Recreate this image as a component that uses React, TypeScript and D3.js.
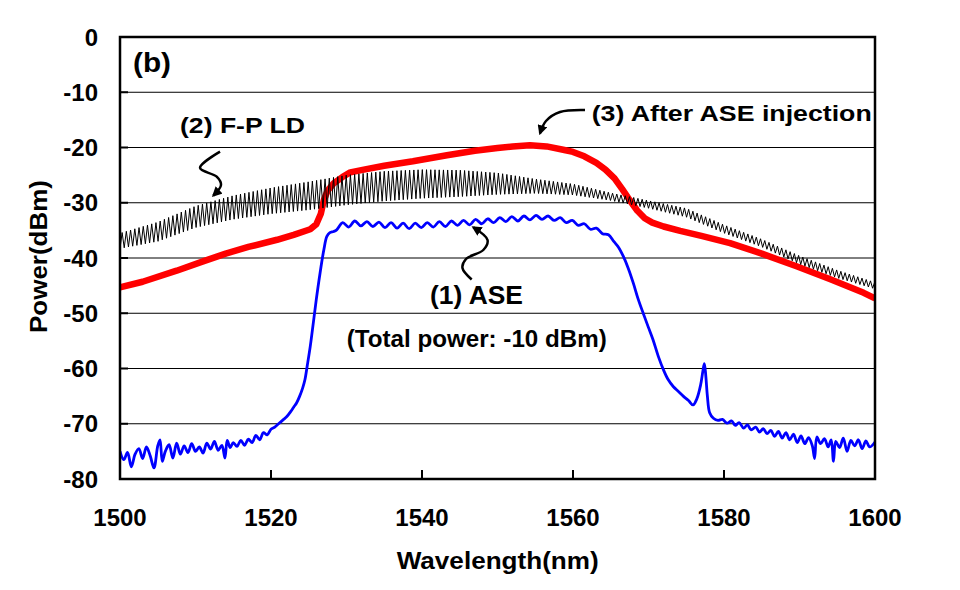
import React from "react";
import * as d3 from "d3";

const W = 960;
const H = 590;
const PLOT = { left: 120, right: 875, top: 37, bottom: 479 };
const FONT = "Arial, 'Liberation Sans', sans-serif";

const X_DOMAIN: [number, number] = [1500, 1600];
const Y_DOMAIN: [number, number] = [-80, 0];
const X_TICKS = [1500, 1520, 1540, 1560, 1580, 1600];
const Y_TICKS = [0, -10, -20, -30, -40, -50, -60, -70, -80];

// (1) ASE spectrum [wavelength nm, power dBm]
const ASE: [number, number][] = [
  [1500.0, -75.0], [1500.5, -76.5], [1501.0, -75.2], [1501.5, -77.8], [1502.0, -75.5],
  [1502.5, -74.5], [1503.0, -76.3], [1503.5, -74.2], [1504.0, -75.8], [1504.5, -78.0],
  [1505.0, -74.0], [1505.3, -72.9], [1505.6, -76.8], [1506.0, -75.0], [1506.5, -73.8],
  [1507.0, -76.2], [1507.5, -73.5], [1508.0, -75.5], [1508.5, -74.0], [1509.0, -75.2],
  [1509.5, -73.6], [1510.0, -75.0], [1510.5, -74.2], [1511.0, -75.3], [1511.5, -73.5],
  [1512.0, -74.6], [1512.5, -73.2], [1513.0, -74.8], [1513.5, -73.9], [1513.9, -76.2],
  [1514.2, -73.0], [1514.6, -74.3], [1515.0, -73.4], [1515.5, -74.1], [1516.0, -73.0],
  [1516.5, -73.9], [1517.0, -72.8], [1517.5, -73.4], [1518.0, -72.1], [1518.5, -72.9],
  [1519.0, -71.6], [1519.5, -72.0], [1520.0, -71.0], [1520.5, -70.6], [1521.0, -70.0],
  [1521.6, -69.3], [1522.1, -68.7], [1522.6, -67.8], [1523.0, -67.0], [1523.4, -66.2],
  [1523.8, -65.0], [1524.2, -63.5], [1524.5, -62.0], [1524.8, -59.5], [1525.2, -56.0],
  [1525.6, -51.8], [1526.0, -47.5], [1526.5, -42.7], [1527.0, -38.5], [1527.4, -36.1],
  [1527.8, -35.4], [1528.3, -35.2], [1528.7, -34.9], [1529.5, -33.6], [1530.3, -34.4],
  [1531.1, -33.3], [1531.9, -34.2], [1532.7, -33.4], [1533.5, -34.3], [1534.3, -33.5],
  [1535.1, -34.5], [1535.9, -33.6], [1536.7, -34.6], [1537.5, -33.7], [1538.3, -34.7],
  [1539.1, -33.7], [1539.9, -34.5], [1540.7, -33.6], [1541.5, -34.4], [1542.3, -33.4],
  [1543.1, -34.3], [1543.9, -33.3], [1544.7, -34.1], [1545.5, -33.2], [1546.3, -34.0],
  [1547.1, -33.0], [1547.9, -33.8], [1548.7, -32.9], [1549.5, -33.6], [1550.3, -32.7],
  [1551.1, -33.4], [1551.9, -32.5], [1552.7, -33.3], [1553.5, -32.4], [1554.3, -33.1],
  [1555.1, -32.3], [1555.9, -33.0], [1556.7, -32.4], [1557.5, -33.2], [1558.3, -32.7],
  [1559.1, -33.6], [1559.9, -33.2], [1560.7, -34.1], [1561.5, -33.8], [1562.3, -34.8],
  [1563.1, -34.6], [1563.9, -35.6], [1564.7, -35.8], [1565.4, -37.0], [1566.0, -38.0],
  [1566.7, -39.8], [1567.3, -41.8], [1568.0, -44.6], [1568.6, -47.3], [1569.3, -50.0],
  [1570.0, -52.6], [1570.6, -54.8], [1571.3, -57.8], [1572.0, -60.3], [1572.6, -62.0],
  [1573.3, -63.3], [1574.0, -64.2], [1574.6, -65.0], [1575.3, -65.8], [1575.9, -66.6],
  [1576.4, -65.5], [1576.9, -63.0], [1577.2, -60.5], [1577.4, -59.1], [1577.6, -61.5],
  [1577.8, -65.0], [1578.1, -68.0], [1578.6, -69.0], [1579.2, -69.4], [1579.8, -69.2],
  [1580.4, -69.9], [1581.0, -69.5], [1581.5, -70.3], [1582.0, -69.8], [1582.6, -70.8],
  [1583.1, -70.2], [1583.6, -71.1], [1584.2, -70.6], [1584.7, -71.5], [1585.2, -70.9],
  [1585.7, -71.8], [1586.2, -71.2], [1586.7, -72.3], [1587.2, -71.4], [1587.7, -72.6],
  [1588.2, -71.6], [1588.7, -72.9], [1589.2, -71.9], [1589.7, -73.4], [1590.2, -72.2],
  [1590.7, -73.6], [1591.2, -72.5], [1591.7, -74.0], [1592.0, -76.3], [1592.3, -72.4],
  [1592.8, -73.6], [1593.3, -72.7], [1593.8, -74.2], [1594.2, -72.9], [1594.5, -76.8],
  [1594.8, -73.2], [1595.3, -74.3], [1595.8, -72.6], [1596.3, -75.0], [1596.8, -73.0],
  [1597.3, -74.0], [1597.8, -72.9], [1598.3, -74.5], [1598.8, -73.1], [1599.3, -74.2],
  [1600.0, -73.3],
];

// (3) After ASE injection [wavelength nm, power dBm]
const INJECTED: [number, number][] = [
  [1500, -45.3], [1503, -44.3], [1507.5, -42.3], [1511, -40.6], [1514, -39.2],
  [1517, -38.0], [1520.8, -36.7], [1523, -35.8], [1525.2, -34.8], [1526.0, -33.9],
  [1526.6, -32.0], [1527.0, -29.5], [1527.5, -27.8], [1528.3, -26.5], [1529.5, -25.3],
  [1530.5, -24.5], [1532.3, -24.0], [1535, -23.3], [1538.8, -22.5], [1543.3, -21.4],
  [1547, -20.6], [1550, -20.1], [1552, -19.8], [1554.3, -19.6], [1556.5, -19.8],
  [1558.7, -20.4], [1560.0, -20.8], [1561.5, -21.6], [1563.1, -22.8], [1564.3, -24.0],
  [1565.5, -25.6], [1566.5, -27.5], [1567.5, -29.5], [1568.5, -31.4], [1569.5, -32.8],
  [1570.5, -33.6], [1572.0, -34.3], [1574.2, -35.1], [1577, -36.0], [1580.8, -37.3],
  [1585, -39.2], [1589.6, -41.5], [1594, -43.8], [1598.5, -46.3], [1600, -47.3],
];

// (2) F-P LD: mode-peak and inter-mode envelopes, and the longitudinal mode spacing
const FP_WAVELENGTH = [1500, 1505, 1510, 1515, 1520, 1525, 1530, 1535, 1540, 1545, 1550,
  1555, 1560, 1565, 1570, 1575, 1580, 1585, 1590, 1595, 1600];
const FP_UPPER = [-35.5, -33.5, -30.6, -28.7, -27.3, -26.2, -25.0, -24.3, -24.0, -24.1, -24.6,
  -25.7, -26.6, -28.2, -29.6, -31.0, -34.0, -36.6, -39.6, -42.2, -44.4];
const FP_LOWER = [-38.3, -37.0, -34.5, -33.0, -32.0, -31.3, -30.4, -29.7, -29.2, -28.9, -28.5,
  -28.3, -28.6, -29.6, -31.0, -32.6, -35.5, -38.0, -41.1, -43.6, -45.6];
const FP_MODE_SPACING = 0.56;

// annotation arrows in data coordinates [nm, dBm]
const ARROW_FP: [number, number][] = [
  [1513.25, -20.76], [1510.6, -23.71], [1512.81, -25.29], [1513.38, -26.79], [1512.36, -28.69],
];
const ARROW_ASE: [number, number][] = [
  [1546.58, -43.89], [1545.36, -41.81], [1545.83, -40.18], [1548.12, -38.55], [1548.68, -36.74], [1546.79, -34.44],
];
const ARROW_INJ: [number, number][] = [
  [1561.59, -13.21], [1558.28, -13.57], [1556.42, -15.2], [1555.63, -17.43],
];

export default function App() {
  const x = d3.scaleLinear().domain(X_DOMAIN).range([PLOT.left, PLOT.right]);
  const y = d3.scaleLinear().domain(Y_DOMAIN).range([PLOT.bottom, PLOT.top]);
  const line = d3.line<[number, number]>().x((d) => x(d[0])).y((d) => y(d[1]));
  const curve = d3
    .line<[number, number]>()
    .x((d) => x(d[0]))
    .y((d) => y(d[1]))
    .curve(d3.curveCatmullRom.alpha(0.5));

  const up = d3.scaleLinear().domain(FP_WAVELENGTH).range(FP_UPPER);
  const lo = d3.scaleLinear().domain(FP_WAVELENGTH).range(FP_LOWER);
  const fpPts: [number, number][] = [];
  const half = FP_MODE_SPACING / 2;
  const n = Math.floor((X_DOMAIN[1] - X_DOMAIN[0]) / half);
  for (let i = 0; i <= n; i++) {
    const w = X_DOMAIN[0] + i * half;
    fpPts.push([w, i % 2 === 0 ? lo(w) : up(w)]);
  }

  const txt = (
    label: string,
    wl: number,
    p: number,
    size: number,
    len?: number
  ) => (
    <text
      x={x(wl)}
      y={y(p)}
      fontSize={size}
      fontWeight="bold"
      fontFamily={FONT}
      fill="#000"
      textLength={len}
      lengthAdjust={len ? "spacingAndGlyphs" : undefined}
    >
      {label}
    </text>
  );

  return (
    <svg
      width={W}
      height={H}
      style={{ position: "absolute", left: 0, top: 0, background: "#fff" }}
    >
      <defs>
        <clipPath id="plotClip">
          <rect x={PLOT.left} y={PLOT.top} width={PLOT.right - PLOT.left} height={PLOT.bottom - PLOT.top} />
        </clipPath>
        <marker id="arrowHead" viewBox="0 0 10 10" refX="8" refY="5" markerWidth="4" markerHeight="4" orient="auto" markerUnits="strokeWidth">
          <path d="M0,0 L10,5 L0,10 z" fill="#000" />
        </marker>
      </defs>
      <rect width={W} height={H} fill="#fff" />

      {/* grid */}
      {Y_TICKS.filter((t) => t !== 0 && t !== -80).map((t) => (
        <line key={"g" + t} x1={PLOT.left} x2={PLOT.right} y1={y(t)} y2={y(t)} stroke="#000" strokeWidth={1} />
      ))}

      {/* series */}
      <g clipPath="url(#plotClip)">
        <path d={line(INJECTED) || ""} fill="none" stroke="#ff0000" strokeWidth={6.5} strokeLinejoin="round" />
        <path d={line(fpPts) || ""} fill="none" stroke="#000" strokeWidth={1} />
        <path d={curve(ASE) || ""} fill="none" stroke="#0000ff" strokeWidth={2.8} strokeLinejoin="round" />
      </g>

      {/* frame */}
      <rect
        x={PLOT.left}
        y={PLOT.top}
        width={PLOT.right - PLOT.left}
        height={PLOT.bottom - PLOT.top}
        fill="none"
        stroke="#000"
        strokeWidth={2.5}
      />
      {X_TICKS.map((t) => (
        <line key={"xt" + t} x1={x(t)} x2={x(t)} y1={PLOT.bottom} y2={PLOT.bottom - 9} stroke="#000" strokeWidth={2} />
      ))}
      {Y_TICKS.map((t) => (
        <line key={"yt" + t} x1={PLOT.left} x2={PLOT.left + 8} y1={y(t)} y2={y(t)} stroke="#000" strokeWidth={2} />
      ))}

      {/* tick labels */}
      {X_TICKS.map((t) => (
        <text key={"xl" + t} x={x(t)} y={PLOT.bottom + 47} textAnchor="middle" fontSize={24} fontWeight="bold" fontFamily={FONT}>
          {t}
        </text>
      ))}
      {Y_TICKS.map((t) => (
        <text key={"yl" + t} x={98} y={y(t) + 8.5} textAnchor="end" fontSize={24} fontWeight="bold" fontFamily={FONT}>
          {t}
        </text>
      ))}

      {/* axis titles */}
      <text x={396.7} y={569} fontSize={24.5} fontWeight="bold" fontFamily={FONT} textLength={202} lengthAdjust="spacingAndGlyphs">
        Wavelength(nm)
      </text>
      <text
        transform={`translate(46.7, 333) rotate(-90)`}
        fontSize={23.5}
        fontWeight="bold"
        fontFamily={FONT}
        textLength={153}
        lengthAdjust="spacingAndGlyphs"
      >
        Power(dBm)
      </text>

      {/* annotations */}
      {txt("(b)", 1501.72, -6.33, 27, 38)}
      {txt("(2) F-P LD", 1507.95, -17.38, 22, 125)}
      {txt("(3) After ASE injection", 1562.48, -15.2, 22.5, 280)}
      {txt("(1) ASE", 1541.06, -48.33, 25, 93)}
      {txt("(Total power: -10 dBm)", 1530.03, -56.11, 23, 260)}

      <path d={curve(ARROW_FP) || ""} fill="none" stroke="#000" strokeWidth={2.5} markerEnd="url(#arrowHead)" />
      <path d={curve(ARROW_ASE) || ""} fill="none" stroke="#000" strokeWidth={2.5} markerEnd="url(#arrowHead)" />
      <path d={curve(ARROW_INJ) || ""} fill="none" stroke="#000" strokeWidth={2.5} markerEnd="url(#arrowHead)" />
    </svg>
  );
}
